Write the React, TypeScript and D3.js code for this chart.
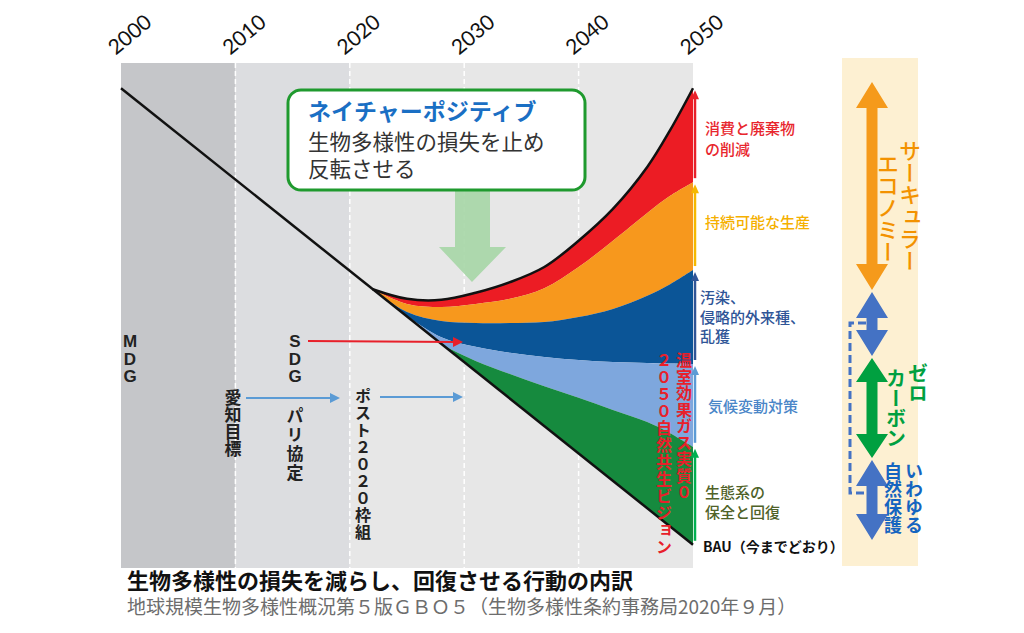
import React from 'react';
import * as d3 from 'd3';

// ---- data ----
const decades = [2000, 2010, 2020, 2030, 2040, 2050];
const years = [2022, 2025, 2028, 2031, 2034, 2037, 2040, 2043, 2046, 2048, 2050];
const naturePositive = [55.2, 53.3, 53.1, 54.5, 56.6, 59.6, 64.8, 71.1, 79.4, 86.7, 95.0];
const consumptionLow = [55.2, 52.3, 51.7, 52.3, 53.3, 55.4, 59.6, 64.8, 70.3, 73.7, 76.4];
const productionLow = [55.2, 50.7, 48.9, 48.5, 48.5, 48.7, 49.7, 51.3, 53.9, 56.2, 59.0];
const pollutionLow = [55.2, 49.9, 45.7, 43.8, 42.6, 41.8, 41.2, 40.8, 40.6, 40.5, 40.4];
const climateLow = [55.2, 49.8, 44.4, 41.0, 38.4, 36.0, 33.7, 31.3, 28.9, 26.7, 24.0];
const bauAtYears = [55.2, 49.8, 44.4, 39.0, 33.5, 28.1, 22.7, 17.3, 11.9, 8.3, 4.6];
const bauYears = [2000, 2050];
const bauValues = [95.0, 4.6];

const bandColors = ['#ec1c24', '#f7981d', '#0b5597', '#7ea7dd', '#168a3e'];
const arrowColors = ['#e8202a', '#f5b800', '#2f5597', '#5b9bd5', '#00b050'];
const labelColors = ['#e8262d', '#f5b000', '#2f5597', '#4a86c8', '#4f6228'];
const bandLabels = [['消費と廃棄物', 'の削減'], ['持続可能な生産'], ['汚染、', '侵略的外来種、', '乱獲'], ['気候変動対策'], ['生態系の', '保全と回復']];

const JP = '"Noto Sans CJK JP", "Noto Sans", sans-serif';

const x = d3.scaleLinear().domain([2000, 2050]).range([121, 693]);
const y = d3.scaleLinear().domain([0, 100]).range([568, 63]);
const curve = d3.curveCatmullRom.alpha(0.5);

function VText({ x, y, text, size, fill, weight = 700, ls = 0 }: any) {
  return (
    <text x={x} y={y} fontSize={size} fill={fill} fontWeight={weight} fontFamily={JP}
      style={{ writingMode: 'vertical-rl', letterSpacing: ls } as any}>{text}</text>
  );
}

function dblArrow(cx: number, y1: number, y2: number, hw: number, hh: number, sw: number) {
  return [
    [cx, y1], [cx + hw / 2, y1 + hh], [cx + sw / 2, y1 + hh], [cx + sw / 2, y2 - hh], [cx + hw / 2, y2 - hh],
    [cx, y2], [cx - hw / 2, y2 - hh], [cx - sw / 2, y2 - hh], [cx - sw / 2, y1 + hh], [cx - hw / 2, y1 + hh],
  ].map(p => p.join(',')).join(' ');
}

export default function App() {
  const bounds = [naturePositive, consumptionLow, productionLow, pollutionLow, climateLow, bauAtYears];
  const line = d3.line<number>().x((_, i) => x(years[i])).y(d => y(d)).curve(curve);
  const bauLine = d3.line<number>().x((_, i) => x(bauYears[i])).y(d => y(d));

  const bands = bandColors.map((c, k) => {
    const top = bounds[k], bot = bounds[k + 1];
    const a = d3.area<number>().x((_, i) => x(years[i])).y0((_, i) => y(bot[i])).y1((_, i) => y(top[i])).curve(curve);
    return <path key={k} d={a(years) || ''} fill={c} />;
  });

  const last = years.length - 1;
  const arrowX = x(2050) + 2;
  const labelY = [[134, 155], [228], [303, 323, 342], [412], [498, 518]];
  const labelX = [705, 705, 700, 708, 705];

  return (
    <svg width={1024} height={633} style={{ position: 'absolute', left: 0, top: 0, background: '#fff' }}>
      {/* panels */}
      <rect x={x(2000)} y={y(100)} width={x(2010) - x(2000)} height={y(0) - y(100)} fill="#c5c6c9" />
      <rect x={x(2010)} y={y(100)} width={x(2020) - x(2010)} height={y(0) - y(100)} fill="#dcdde0" />
      <rect x={x(2020)} y={y(100)} width={x(2050) - x(2020)} height={y(0) - y(100)} fill="#e7e7e7" />
      {decades.slice(1, 5).map(d => (
        <line key={d} x1={x(d)} x2={x(d)} y1={y(100)} y2={y(0)} stroke="#fff" strokeWidth={1.5} strokeDasharray="5,3" />
      ))}
      {decades.map(d => (
        <text key={d} transform={`translate(${x(d) + 10},${36}) rotate(-40)`} textAnchor="middle" dominantBaseline="middle"
          fontSize={21} fontFamily="Lato, 'Open Sans', sans-serif" fill="#111">{d}</text>
      ))}

      {/* light green arrow */}
      <polygon points={`455,190 490,190 490,247 506,247 472,282 439,247 455,247`} fill="#a6d6a6" opacity={0.9} />

      {/* bands */}
      {bands}
      <path d={line(naturePositive) || ''} fill="none" stroke="#111" strokeWidth={2.5} />
      <path d={bauLine(bauValues) || ''} fill="none" stroke="#111" strokeWidth={2.5} />

      {/* callout */}
      <rect x={288} y={90} width={297} height={100} rx={13} fill="#fff" stroke="#1f9a2e" strokeWidth={3} />
      <text x={308} y={120} fontSize={23} fontWeight={700} fill="#1a6fc4" fontFamily={JP}>ネイチャーポジティブ</text>
      <text x={308} y={150} fontSize={21.5} fill="#333" fontFamily={JP}>生物多様性の損失を止め</text>
      <text x={308} y={177} fontSize={21.5} fill="#333" fontFamily={JP}>反転させる</text>

      {/* left labels */}
      {['M', 'D', 'G'].map((c, i) => (
        <text key={c} x={130} y={347 + i * 17.5} textAnchor="middle" fontSize={17} fontWeight={700} fontFamily="'Liberation Sans', Arial, sans-serif" fill="#222">{c}</text>
      ))}
      {['S', 'D', 'G'].map((c, i) => (
        <text key={c} x={295} y={347 + i * 17.5} textAnchor="middle" fontSize={17} fontWeight={700} fontFamily="'Liberation Sans', Arial, sans-serif" fill="#222">{c}</text>
      ))}
      <line x1={308} y1={341} x2={455} y2={342} stroke="#e8202a" strokeWidth={2} />
      <polygon points="463,342 453,337 453,347" fill="#e8202a" />
      <line x1={246} y1={398} x2={332} y2={398} stroke="#5b9bd5" strokeWidth={2} />
      <polygon points="340,398 330,393 330,403" fill="#5b9bd5" />
      <line x1={380} y1={397} x2={455} y2={397} stroke="#5b9bd5" strokeWidth={2} />
      <polygon points="463,397 453,392 453,402" fill="#5b9bd5" />
      <VText x={233} y={389} text="愛知目標" size={17} fill="#222" />
      <VText x={295} y={407} text="パリ協定" size={17} fill="#222" ls={2} />
      <VText x={363} y={388} text="ポスト２０２０枠組" size={16} fill="#222" ls={1} />
      <VText x={684} y={352} text="温室効果ガス実質０" size={16} fill="#e8202a" ls={0.5} />
      <VText x={664} y={352} text="２０５０自然共生ビジョン" size={16} fill="#e8202a" ls={1} />

      {/* right arrows + labels */}
      {arrowColors.map((c, k) => {
        const yt = y(bounds[k][last]) + 2;
        const yb = y(bounds[k + 1][last]) - 4;
        return (
          <g key={k}>
            <line x1={arrowX} x2={arrowX} y1={yb} y2={yt + 6} stroke={c} strokeWidth={2.5} />
            <polygon points={`${arrowX},${yt} ${arrowX - 4},${yt + 9} ${arrowX + 4},${yt + 9}`} fill={c} />
          </g>
        );
      })}
      {bandLabels.map((lines, k) => lines.map((t, j) => (
        <text key={k + '-' + j} x={labelX[k]} y={labelY[k][j]} fontSize={15} fontWeight={500} fill={labelColors[k]} fontFamily={JP}>{t}</text>
      )))}
      <text x={703} y={552} fontSize={14} fontWeight={700} fill="#111" fontFamily={JP}>BAU（今までどおり）</text>

      {/* far right column */}
      <rect x={842} y={58} width={76} height={508} fill="#fdf0d2" />
      <path d="M866,323 H850 V493 H866" fill="none" stroke="#4472c4" strokeWidth={3} strokeDasharray="8,4" />
      <polygon points={dblArrow(872, 82, 290, 32, 26, 11)} fill="#f59a1b" />
      <polygon points={dblArrow(872, 292, 356, 32, 26, 11)} fill="#4472c4" />
      <polygon points={dblArrow(872, 358, 458, 32, 24, 11)} fill="#00a040" />
      <polygon points={dblArrow(872, 460, 540, 32, 26, 11)} fill="#4472c4" />
      <VText x={910} y={140} text="サーキュラー" size={22} fill="#f39200" weight={500} />
      <VText x={888} y={153} text="エコノミー" size={22} fill="#f39200" weight={500} />
      <VText x={918} y={363} text="ゼロ" size={20} fill="#00a040" />
      <VText x={896} y={368} text="カーボン" size={20} fill="#00a040" />
      <VText x={914} y={462} text="いわゆる" size={18} fill="#1565c0" />
      <VText x={893} y={462} text="自然保護" size={18} fill="#1565c0" />

      {/* caption */}
      <text x={127} y={589} fontSize={22} fontWeight={700} fill="#111" fontFamily={JP}>生物多様性の損失を減らし、回復させる行動の内訳</text>
      <text x={127} y={614} fontSize={19} fill="#6d6d6d" fontFamily={JP}>地球規模生物多様性概況第５版ＧＢＯ５（生物多様性条約事務局2020年９月）</text>
    </svg>
  );
}
